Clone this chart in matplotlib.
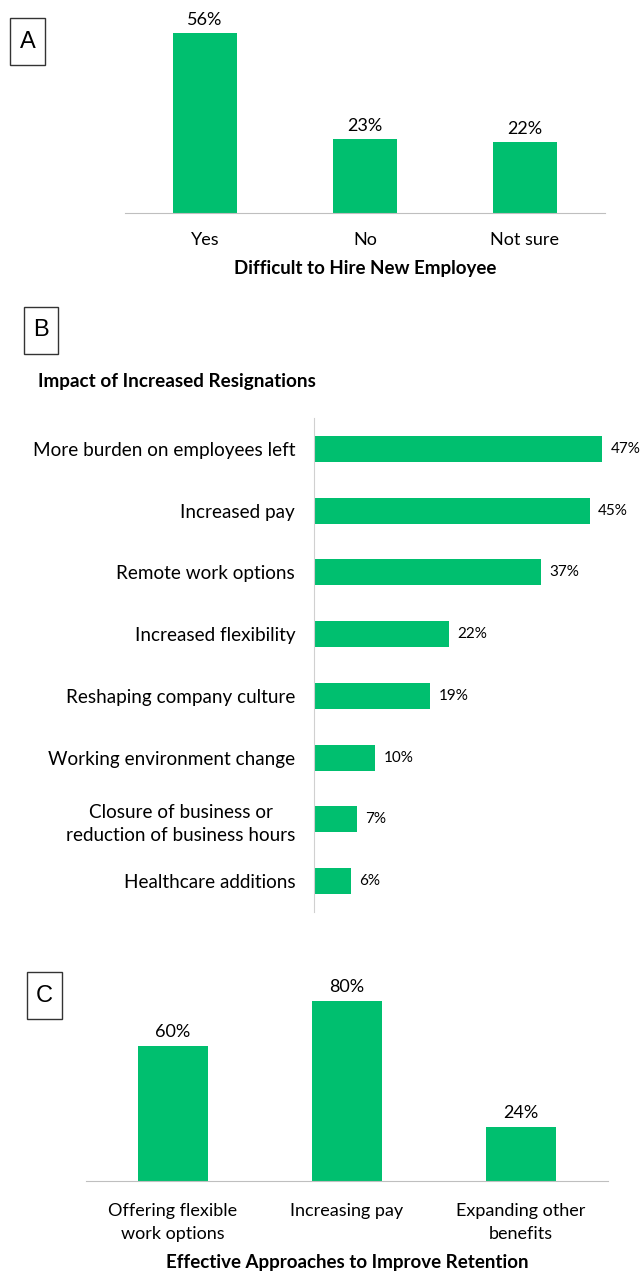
import matplotlib.pyplot as plt
import matplotlib.patches as patches

plt.rcParams['font.family'] = ['Lato', 'DejaVu Sans']

GREEN = '#00BF6F'
AXIS_GRAY = '#BFBFBF'

# panel A: difficulty hiring
hire_labels = ['Yes', 'No', 'Not sure']
hire_values = [56, 23, 22]

# panel B: impact of resignations
impact_labels = ['More burden on employees left', 'Increased pay', 'Remote work options',
                 'Increased flexibility', 'Reshaping company culture',
                 'Working environment change',
                 'Closure of business or\nreduction of business hours',
                 'Healthcare additions']
impact_values = [47, 45, 37, 22, 19, 10, 7, 6]

# panel C: retention approaches
retain_labels = ['Offering flexible\nwork options', 'Increasing pay', 'Expanding other\nbenefits']
retain_values = [60, 80, 24]

W, H = 644, 1273
fig = plt.figure(figsize=(W / 100, H / 100), dpi=100)


def px_axes(left, top, right, bottom):
    return fig.add_axes([left / W, 1 - bottom / H, (right - left) / W, (bottom - top) / H])


def letter_box(x0, y0, x1, y1, letter):
    rect = patches.Rectangle((x0 / W, 1 - y1 / H), (x1 - x0) / W, (y1 - y0) / H,
                             transform=fig.transFigure, fill=False, edgecolor='#333333', lw=1.0)
    fig.patches.append(rect)
    fig.text((x0 + x1) / 2 / W, 1 - (y0 + y1) / 2 / H, letter, ha='center', va='center',
             fontsize=17, family='Liberation Sans')


def column_panel(ax, labels, values, ymax, xlabel, tick_pad, label_pad):
    x = range(len(labels))
    ax.bar(x, values, width=0.4, color=GREEN)
    for xi, v in zip(x, values):
        ax.annotate(f'{v}%', (xi, v), xytext=(0, 4), textcoords='offset points',
                    ha='center', va='bottom', fontsize=13)
    ax.set_xlim(-0.5, len(labels) - 0.5)
    ax.set_ylim(0, ymax)
    ax.set_xticks(list(x))
    ax.set_xticklabels(labels, fontsize=13, linespacing=1.5)
    ax.tick_params(axis='x', length=0, pad=tick_pad)
    ax.set_yticks([])
    for s in ['top', 'right', 'left']:
        ax.spines[s].set_visible(False)
    ax.spines['bottom'].set_color(AXIS_GRAY)
    ax.set_xlabel(xlabel, fontsize=13.5, fontweight='bold', labelpad=label_pad)


# A
axA = px_axes(125, 20, 605, 213)
column_panel(axA, hire_labels, hire_values, 193 / 3.21, 'Difficult to Hire New Employee', 14, 8)
letter_box(10, 18, 45, 65, 'A')

# B
axB = px_axes(314, 418, 640, 912)
yb = range(len(impact_labels))
axB.barh(yb, impact_values, height=0.42, color=GREEN)
for yi, v in zip(yb, impact_values):
    axB.annotate(f'{v}%', (v, yi), xytext=(6, 0), textcoords='offset points',
                 ha='left', va='center', fontsize=11)
axB.set_ylim(len(impact_labels) - 0.5, -0.5)
axB.set_xlim(0, 326 / 6.13)
axB.set_yticks(list(yb))
axB.set_yticklabels(impact_labels, fontsize=13.6, multialignment='center', linespacing=1.45)
axB.tick_params(axis='y', length=0, pad=13.5)
axB.set_xticks([])
for s in ['top', 'right', 'bottom']:
    axB.spines[s].set_visible(False)
axB.spines['left'].set_color('#D0D0D0')
fig.text(38 / W, 1 - 381 / H, 'Impact of Increased Resignations', fontsize=13.6,
         fontweight='bold', ha='left', va='center')
letter_box(24, 307, 58, 354, 'B')

# C
axC = px_axes(86, 960, 608, 1181)
column_panel(axC, retain_labels, retain_values, 221 / 2.25,
             'Effective Approaches to Improve Retention', 16, 9)
letter_box(27, 972, 62, 1019, 'C')

fig.savefig('out.png', dpi=100, facecolor='white')
